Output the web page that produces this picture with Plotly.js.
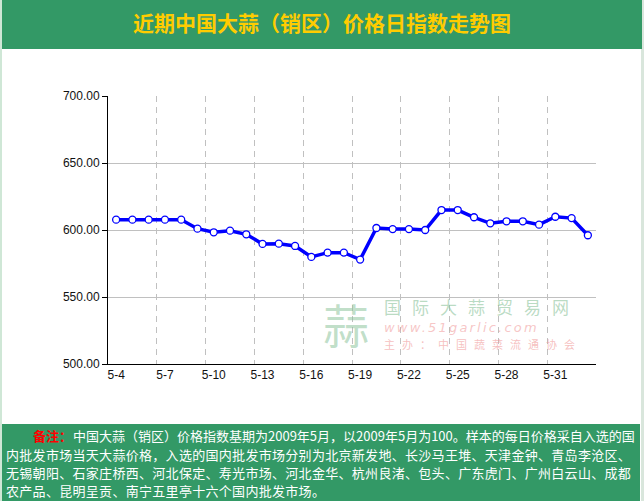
<!DOCTYPE html>
<html>
<head>
<meta charset="utf-8">
<script src="https://cdn.plot.ly/plotly-3.0.1.min.js"></script>
<style>
html,body{margin:0;padding:0;background:#ffffff;}
#chart{width:644px;height:501px;}
</style>
</head>
<body>
<div id="chart"></div>
<script>
// ---- data ----
const dates = ["5-4","5-5","5-6","5-7","5-8","5-9","5-10","5-11","5-12","5-13",
               "5-14","5-15","5-16","5-17","5-18","5-19","5-20","5-21","5-22","5-23",
               "5-24","5-25","5-26","5-27","5-28","5-29","5-30","5-31","6-1","6-2"];
const indexValues = [607.7,607.7,607.7,607.7,607.7,601.0,598.3,599.5,596.8,589.6,
                     589.8,588.1,579.9,583.1,583.1,577.9,601.5,600.7,600.7,600.0,
                     614.9,614.9,609.5,605.0,606.5,606.5,604.0,609.9,608.9,596.1];
const yTicks = [500,550,600,650,700];
const titleText = "近期中国大蒜（销区）价格日指数走势图";
const noteLines = [
  "中国大蒜（销区）价格指数基期为2009年5月，以2009年5月为100。样本的每日价格采自入选的国",
  "内批发市场当天大蒜价格，入选的国内批发市场分别为北京新发地、长沙马王堆、天津金钟、青岛李沧区、",
  "无锡朝阳、石家庄桥西、河北保定、寿光市场、河北金华、杭州良渚、包头、广东虎门、广州白云山、成都",
  "农产品、昆明呈贡、南宁五里亭十六个国内批发市场。"
];

// ---- layout helpers (pixel -> paper) ----
const W = 644, H = 501, L = 108, R = 48, T = 96, B = 137;
const pw = W - L - R, ph = H - T - B;
const fx = p => (p - L) / pw;
const fy = p => (H - B - p) / ph;

const GREEN = "#339966";
const cjk = '"Noto Sans CJK SC", "Noto Sans", sans-serif';

const shapes = [
  {type:"rect", xref:"paper", yref:"paper", x0:fx(0), x1:fx(2), y0:fy(501), y1:fy(0), fillcolor:"#cfe7d6", line:{width:0}, layer:"below"},
  {type:"rect", xref:"paper", yref:"paper", x0:fx(641), x1:fx(644), y0:fy(501), y1:fy(0), fillcolor:"#d9e6dc", line:{width:0}, layer:"below"},
  {type:"rect", xref:"paper", yref:"paper", x0:fx(2), x1:fx(642), y0:fy(49), y1:fy(0), fillcolor:GREEN, line:{width:0}, layer:"below"},
  {type:"rect", xref:"paper", yref:"paper", x0:fx(2), x1:fx(640), y0:fy(501), y1:fy(424), fillcolor:GREEN, line:{width:0}, layer:"below"}
];

const annotations = [];
// watermark
annotations.push({xref:"paper", yref:"paper", x:fx(346), y:fy(323), text:"蒜", showarrow:false,
  font:{family:cjk, size:46, color:"rgba(140,195,155,0.55)"}, xanchor:"center", yanchor:"middle"});
annotations.push({xref:"paper", yref:"paper", x:fx(382), y:fy(306), text:'<span style="letter-spacing:11px">国际大蒜贸易网</span>', showarrow:false,
  font:{family:cjk, size:17, color:"rgba(140,195,155,0.6)"}, xanchor:"left", yanchor:"middle"});
annotations.push({xref:"paper", yref:"paper", x:fx(382), y:fy(327), text:'<i><span style="letter-spacing:2.2px">www.51garlic.com</span></i>', showarrow:false,
  font:{family:"DejaVu Sans, sans-serif", size:13, color:"rgba(240,150,150,0.55)"}, xanchor:"left", yanchor:"middle"});
annotations.push({xref:"paper", yref:"paper", x:fx(382), y:fy(344), text:'<span style="letter-spacing:7px">主办：中国蔬菜流通协会</span>', showarrow:false,
  font:{family:cjk, size:11, color:"rgba(240,150,150,0.6)"}, xanchor:"left", yanchor:"middle"});

// footer note
const lineY = [435, 454, 472, 490];
const spacing = [0, 0.3, 0.3, 0.3];
annotations.push({xref:"paper", yref:"paper", x:fx(31), y:fy(lineY[0]), text:"<b>备注：</b>", showarrow:false,
  font:{family:cjk, size:13, color:"#ff0000"}, xanchor:"left", yanchor:"middle"});
noteLines.forEach((t, i) => {
  annotations.push({xref:"paper", yref:"paper", x:fx(i === 0 ? 71 : 4), y:fy(lineY[i]),
    text:'<span style="letter-spacing:' + spacing[i] + 'px">' + t + '</span>', showarrow:false,
    font:{family:cjk, size:13, color:"#ffffff"}, xanchor:"left", yanchor:"middle", align:"left"});
});

const trace = {
  x: dates,
  y: indexValues,
  type: "scatter",
  mode: "lines+markers",
  line: {color:"#0000ff", width:3.5},
  marker: {symbol:"circle", size:7, color:"#ffffff", line:{color:"#0000ff", width:1.3}},
  hoverinfo: "x+y"
};

const layout = {
  width: W, height: H,
  margin: {l:L, r:R, t:T, b:B, pad:0},
  paper_bgcolor: "#ffffff",
  plot_bgcolor: "rgba(0,0,0,0)",
  showlegend: false,
  title: {text: "<b>" + titleText + "</b>", x:0.5, xanchor:"center", y:1 - 24/H, yanchor:"middle", yref:"container",
          font:{family:cjk, size:21, color:"#ffcc00"}},
  xaxis: {
    type: "category",
    range: [-0.5, dates.length - 0.5],
    tickmode: "linear", tick0: 0, dtick: 3,
    tickson: "boundaries", tickangle: 0,
    ticks: "", showgrid: true, gridcolor: "#c0c0c0", gridwidth: 1, griddash: "6px,5px",
    showline: true, linecolor: "#000000", linewidth: 1,
    tickfont: {family:"Arial, Liberation Sans, sans-serif", size:12, color:"#111111"},
    fixedrange: true, zeroline: false
  },
  yaxis: {
    range: [500, 700],
    tickmode: "array", tickvals: yTicks, ticktext: yTicks.map(v => v.toFixed(2)),
    ticks: "outside", ticklen: 5, tickcolor: "#000000", tickwidth: 1,
    showgrid: true, gridcolor: "#c0c0c0", gridwidth: 1,
    showline: true, linecolor: "#000000", linewidth: 1,
    zeroline: false,
    tickfont: {family:"Arial, Liberation Sans, sans-serif", size:12, color:"#111111"},
    fixedrange: true
  },
  shapes: shapes,
  annotations: annotations
};

Plotly.newPlot("chart", [trace], layout, {displayModeBar:false, staticPlot:true});
</script>
</body>
</html>
